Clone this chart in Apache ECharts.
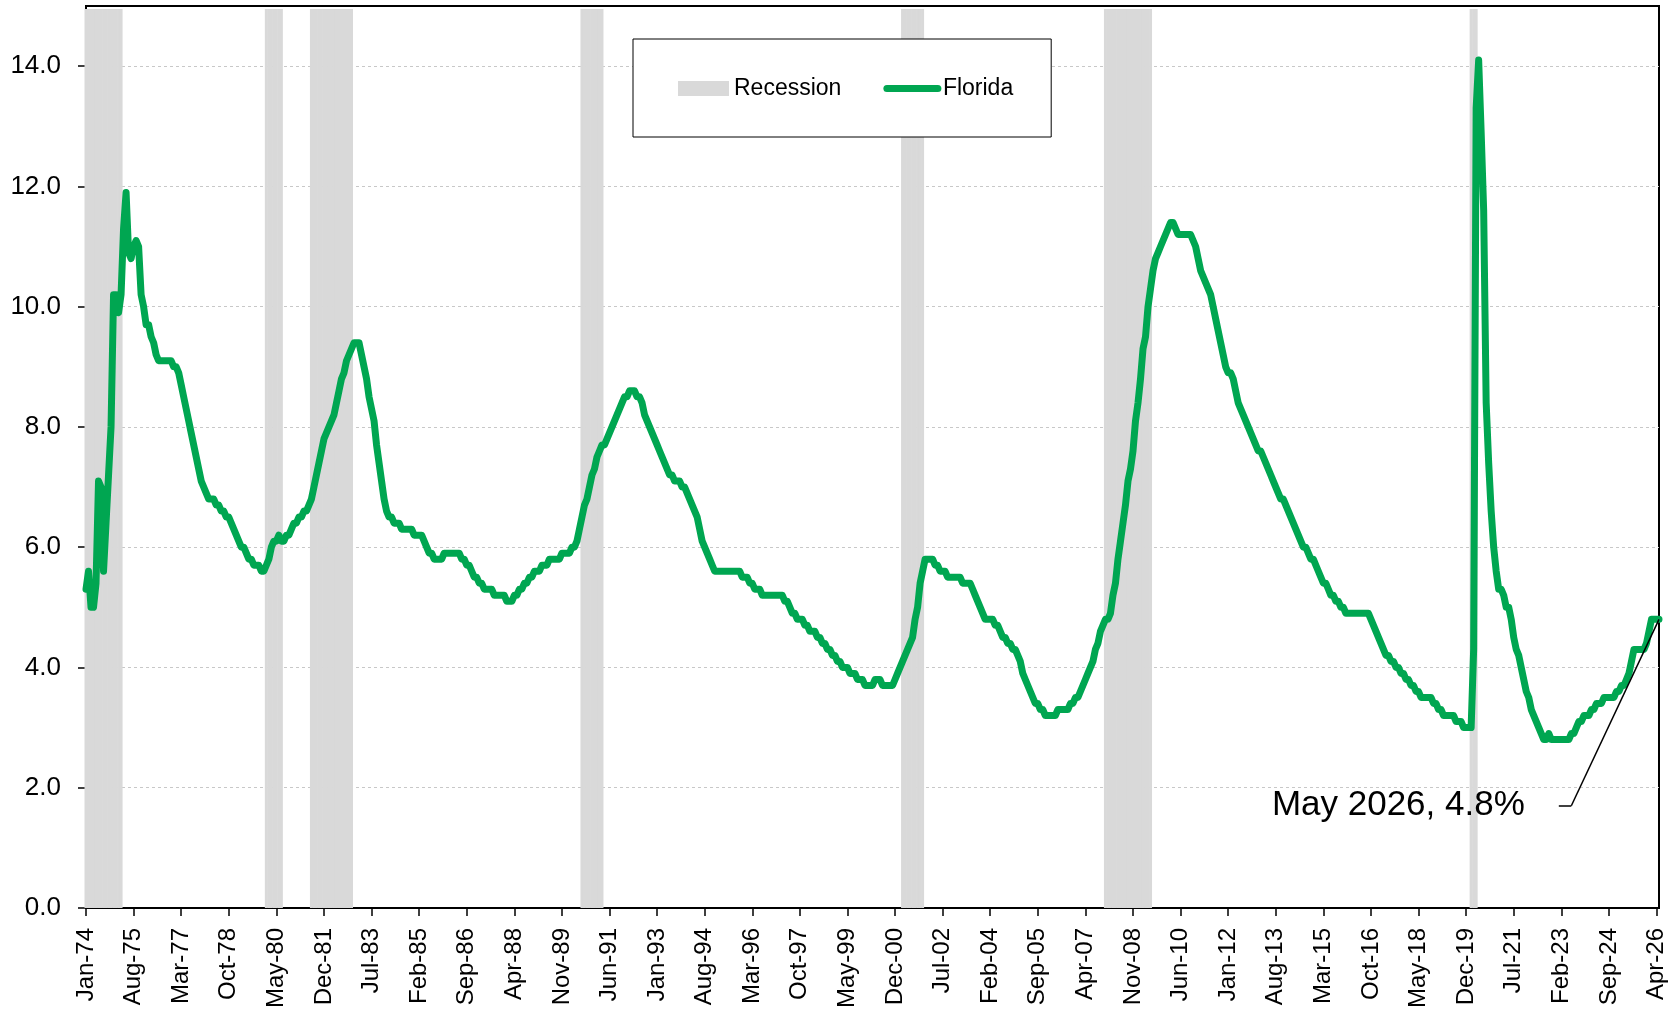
<!DOCTYPE html>
<html>
<head>
<meta charset="utf-8">
<title>Florida unemployment rate</title>
<script src="https://cdn.jsdelivr.net/npm/echarts@6/dist/echarts.min.js"></script>
<style>
  html, body { margin: 0; padding: 0; background: #fff; }
  #chart { width: 1675px; height: 1011px; }
</style>
</head>
<body>
<div id="chart"></div>
<script>
// monthly unemployment rate, Jan-74 .. May-26
const florida = [
  5.3, 5.6, 5.0, 5.0, 5.4, 7.1, 7.0, 5.6, 6.4, 7.2, 8.0, 10.2,      // 1974
  10.2, 9.9, 10.2, 11.3, 11.9, 10.9, 10.8, 11.0, 11.1, 11.0, 10.2, 10.0, // 1975
  9.7, 9.7, 9.5, 9.4, 9.2, 9.1, 9.1, 9.1, 9.1, 9.1, 9.1, 9.0,       // 1976
  9.0, 8.9, 8.7, 8.5, 8.3, 8.1, 7.9, 7.7, 7.5, 7.3, 7.1, 7.0,       // 1977
  6.9, 6.8, 6.8, 6.8, 6.7, 6.7, 6.6, 6.6, 6.5, 6.5, 6.4, 6.3,       // 1978
  6.2, 6.1, 6.0, 6.0, 5.9, 5.8, 5.8, 5.7, 5.7, 5.7, 5.6, 5.6,       // 1979
  5.7, 5.8, 6.0, 6.1, 6.1, 6.2, 6.1, 6.1, 6.2, 6.2, 6.3, 6.4,       // 1980
  6.4, 6.5, 6.5, 6.6, 6.6, 6.7, 6.8, 7.0, 7.2, 7.4, 7.6, 7.8,       // 1981
  7.9, 8.0, 8.1, 8.2, 8.4, 8.6, 8.8, 8.9, 9.1, 9.2, 9.3, 9.4,       // 1982
  9.4, 9.4, 9.2, 9.0, 8.8, 8.5, 8.3, 8.1, 7.7, 7.4, 7.1, 6.8,       // 1983
  6.6, 6.5, 6.5, 6.4, 6.4, 6.4, 6.3, 6.3, 6.3, 6.3, 6.3, 6.2,       // 1984
  6.2, 6.2, 6.2, 6.1, 6.0, 5.9, 5.9, 5.8, 5.8, 5.8, 5.8, 5.9,       // 1985
  5.9, 5.9, 5.9, 5.9, 5.9, 5.9, 5.8, 5.8, 5.7, 5.7, 5.6, 5.5,       // 1986
  5.5, 5.4, 5.4, 5.3, 5.3, 5.3, 5.3, 5.2, 5.2, 5.2, 5.2, 5.2,       // 1987
  5.1, 5.1, 5.1, 5.2, 5.2, 5.3, 5.3, 5.4, 5.4, 5.5, 5.5, 5.6,       // 1988
  5.6, 5.6, 5.7, 5.7, 5.7, 5.8, 5.8, 5.8, 5.8, 5.8, 5.9, 5.9,       // 1989
  5.9, 5.9, 6.0, 6.0, 6.1, 6.3, 6.5, 6.7, 6.8, 7.0, 7.2, 7.3,       // 1990
  7.5, 7.6, 7.7, 7.7, 7.8, 7.9, 8.0, 8.1, 8.2, 8.3, 8.4, 8.5,       // 1991
  8.5, 8.6, 8.6, 8.6, 8.5, 8.5, 8.4, 8.2, 8.1, 8.0, 7.9, 7.8,       // 1992
  7.7, 7.6, 7.5, 7.4, 7.3, 7.2, 7.2, 7.1, 7.1, 7.1, 7.0, 7.0,       // 1993
  6.9, 6.8, 6.7, 6.6, 6.5, 6.3, 6.1, 6.0, 5.9, 5.8, 5.7, 5.6,       // 1994
  5.6, 5.6, 5.6, 5.6, 5.6, 5.6, 5.6, 5.6, 5.6, 5.6, 5.5, 5.5,       // 1995
  5.5, 5.4, 5.4, 5.3, 5.3, 5.3, 5.2, 5.2, 5.2, 5.2, 5.2, 5.2,       // 1996
  5.2, 5.2, 5.2, 5.1, 5.1, 5.0, 4.9, 4.9, 4.8, 4.8, 4.8, 4.7,       // 1997
  4.7, 4.6, 4.6, 4.6, 4.5, 4.5, 4.4, 4.4, 4.3, 4.3, 4.2, 4.2,       // 1998
  4.1, 4.1, 4.0, 4.0, 4.0, 3.9, 3.9, 3.9, 3.8, 3.8, 3.8, 3.7,       // 1999
  3.7, 3.7, 3.7, 3.8, 3.8, 3.8, 3.7, 3.7, 3.7, 3.7, 3.7, 3.8,       // 2000
  3.9, 4.0, 4.1, 4.2, 4.3, 4.4, 4.5, 4.8, 5.0, 5.4, 5.6, 5.8,       // 2001
  5.8, 5.8, 5.8, 5.7, 5.7, 5.6, 5.6, 5.6, 5.5, 5.5, 5.5, 5.5,       // 2002
  5.5, 5.5, 5.4, 5.4, 5.4, 5.4, 5.3, 5.2, 5.1, 5.0, 4.9, 4.8,       // 2003
  4.8, 4.8, 4.8, 4.7, 4.7, 4.6, 4.5, 4.5, 4.4, 4.4, 4.3, 4.3,       // 2004
  4.2, 4.1, 3.9, 3.8, 3.7, 3.6, 3.5, 3.4, 3.4, 3.3, 3.3, 3.2,       // 2005
  3.2, 3.2, 3.2, 3.2, 3.3, 3.3, 3.3, 3.3, 3.3, 3.4, 3.4, 3.5,       // 2006
  3.5, 3.6, 3.7, 3.8, 3.9, 4.0, 4.1, 4.3, 4.4, 4.6, 4.7, 4.8,       // 2007
  4.8, 4.9, 5.2, 5.4, 5.8, 6.1, 6.4, 6.7, 7.1, 7.3, 7.6, 8.1,       // 2008
  8.4, 8.8, 9.3, 9.5, 10.0, 10.3, 10.6, 10.8, 10.9, 11.0, 11.1, 11.2, // 2009
  11.3, 11.4, 11.4, 11.3, 11.2, 11.2, 11.2, 11.2, 11.2, 11.2, 11.1, 11.0, // 2010
  10.8, 10.6, 10.5, 10.4, 10.3, 10.2, 10.0, 9.8, 9.6, 9.4, 9.2, 9.0, // 2011
  8.9, 8.9, 8.8, 8.6, 8.4, 8.3, 8.2, 8.1, 8.0, 7.9, 7.8, 7.7,       // 2012
  7.6, 7.6, 7.5, 7.4, 7.3, 7.2, 7.1, 7.0, 6.9, 6.8, 6.8, 6.7,       // 2013
  6.6, 6.5, 6.4, 6.3, 6.2, 6.1, 6.0, 6.0, 5.9, 5.8, 5.8, 5.7,       // 2014
  5.6, 5.5, 5.4, 5.4, 5.3, 5.2, 5.2, 5.1, 5.1, 5.0, 5.0, 4.9,       // 2015
  4.9, 4.9, 4.9, 4.9, 4.9, 4.9, 4.9, 4.9, 4.9, 4.8, 4.7, 4.6,       // 2016
  4.5, 4.4, 4.3, 4.2, 4.2, 4.1, 4.1, 4.0, 4.0, 3.9, 3.9, 3.8,       // 2017
  3.8, 3.7, 3.7, 3.6, 3.6, 3.5, 3.5, 3.5, 3.5, 3.5, 3.4, 3.4,       // 2018
  3.3, 3.3, 3.2, 3.2, 3.2, 3.2, 3.2, 3.1, 3.1, 3.1, 3.0, 3.0,       // 2019
  3.0, 3.0, 4.3, 13.3, 14.1, 12.9, 11.6, 8.4, 7.4, 6.6, 6.0, 5.6,   // 2020
  5.3, 5.3, 5.2, 5.0, 5.0, 4.8, 4.5, 4.3, 4.2, 4.0, 3.8, 3.6,       // 2021
  3.5, 3.3, 3.2, 3.1, 3.0, 2.9, 2.8, 2.8, 2.9, 2.8, 2.8, 2.8,       // 2022
  2.8, 2.8, 2.8, 2.8, 2.8, 2.9, 2.9, 3.0, 3.1, 3.1, 3.2, 3.2,       // 2023
  3.2, 3.3, 3.3, 3.4, 3.4, 3.4, 3.5, 3.5, 3.5, 3.5, 3.5, 3.6,       // 2024
  3.6, 3.7, 3.7, 3.8, 3.9, 4.1, 4.3, 4.3, 4.3, 4.3, 4.3, 4.4,       // 2025
  4.6, 4.8, 4.8, 4.8, 4.8                                           // 2026
];

// NBER recessions (first month, last month)
const recessions = [
  ['Jan-74', 'Mar-75'],
  ['Jan-80', 'Jul-80'],
  ['Jul-81', 'Nov-82'],
  ['Jul-90', 'Mar-91'],
  ['Mar-01', 'Nov-01'],
  ['Dec-07', 'Jun-09'],
  ['Feb-20', 'Apr-20']
];

const yTicks = [0, 2, 4, 6, 8, 10, 12, 14];
const annotationText = 'May 2026, 4.8%';

const MON = ['Jan', 'Feb', 'Mar', 'Apr', 'May', 'Jun', 'Jul', 'Aug', 'Sep', 'Oct', 'Nov', 'Dec'];
const months = florida.map((v, i) =>
  MON[i % 12] + '-' + String((1974 + Math.floor(i / 12)) % 100).padStart(2, '0'));

// shade recession months up to just under the top of the axis
const shade = months.map(() => '-');
recessions.forEach(([a, b]) => {
  for (let i = months.indexOf(a); i <= months.indexOf(b); i++) shade[i] = 14.95;
});

const last = florida.length - 1;
const FONT = 'Liberation Sans, Arial, sans-serif';
const GREEN = '#00a651';

const chart = echarts.init(document.getElementById('chart'), null, { renderer: 'canvas' });

chart.setOption({
  animation: false,
  backgroundColor: '#fff',
  textStyle: { fontFamily: FONT, color: '#000' },
  grid: {
    left: 86, right: 16, top: 6, bottom: 99,
    show: true, borderColor: '#000', borderWidth: 2
  },
  legend: {
    left: 633, top: 39,
    padding: [38, 38, 37, 45],
    backgroundColor: '#fff',
    borderColor: '#000', borderWidth: 1,
    borderRadius: 0,
    itemWidth: 51, itemHeight: 15, itemGap: 42,
    lineStyle: { width: 7, cap: 'round' },
    textStyle: { fontSize: 23, color: '#000', fontFamily: FONT },
    data: [
      { name: 'Recession', icon: 'rect' },
      { name: 'Florida', itemStyle: { opacity: 0 } }
    ]
  },
  xAxis: {
    type: 'category',
    data: months,
    boundaryGap: false,
    axisLine: { lineStyle: { color: '#000', width: 2 } },
    axisTick: { interval: 18, length: 8, lineStyle: { color: '#000', width: 1.5 } },
    axisLabel: {
      interval: 18, rotate: 90, margin: 20,
      fontSize: 24, color: '#000', fontFamily: FONT
    },
    splitLine: { show: false }
  },
  yAxis: {
    type: 'value',
    min: 0, max: 15, interval: 2,
    axisLine: { show: true, lineStyle: { color: '#000', width: 2 } },
    axisTick: { show: true, length: 8, lineStyle: { color: '#000', width: 1.5 } },
    axisLabel: {
      margin: 25, fontSize: 26, color: '#000', fontFamily: FONT,
      showMaxLabel: false,
      formatter: v => (yTicks.indexOf(v) >= 0 ? v.toFixed(1) : '')
    },
    splitLine: {
      showMinLine: false, showMaxLine: false,
      lineStyle: { color: '#c8c8c8', type: [3, 3], width: 1 }
    }
  },
  series: [
    {
      name: 'Recession',
      type: 'bar',
      data: shade,
      barWidth: 3,
      itemStyle: { color: '#d9d9d9' },
      silent: true
    },
    {
      name: 'Florida',
      type: 'line',
      data: florida,
      symbol: 'none',
      lineStyle: { color: GREEN, width: 7, join: 'round', cap: 'round' },
      itemStyle: { color: GREEN },
      z: 3,
      markLine: {
        silent: true,
        symbol: ['none', 'none'],
        lineStyle: { color: '#000', width: 1.5, type: 'solid' },
        label: { show: false },
        data: [
          [
            {
              coord: [588, 1.7],
              label: {
                show: true, position: 'start', distance: 34,
                formatter: annotationText,
                fontSize: 35, color: '#000', fontFamily: FONT
              }
            },
            { coord: [593, 1.7] }
          ],
          [{ coord: [593, 1.7] }, { coord: [last, florida[last]] }]
        ]
      }
    }
  ]
});
</script>
</body>
</html>
